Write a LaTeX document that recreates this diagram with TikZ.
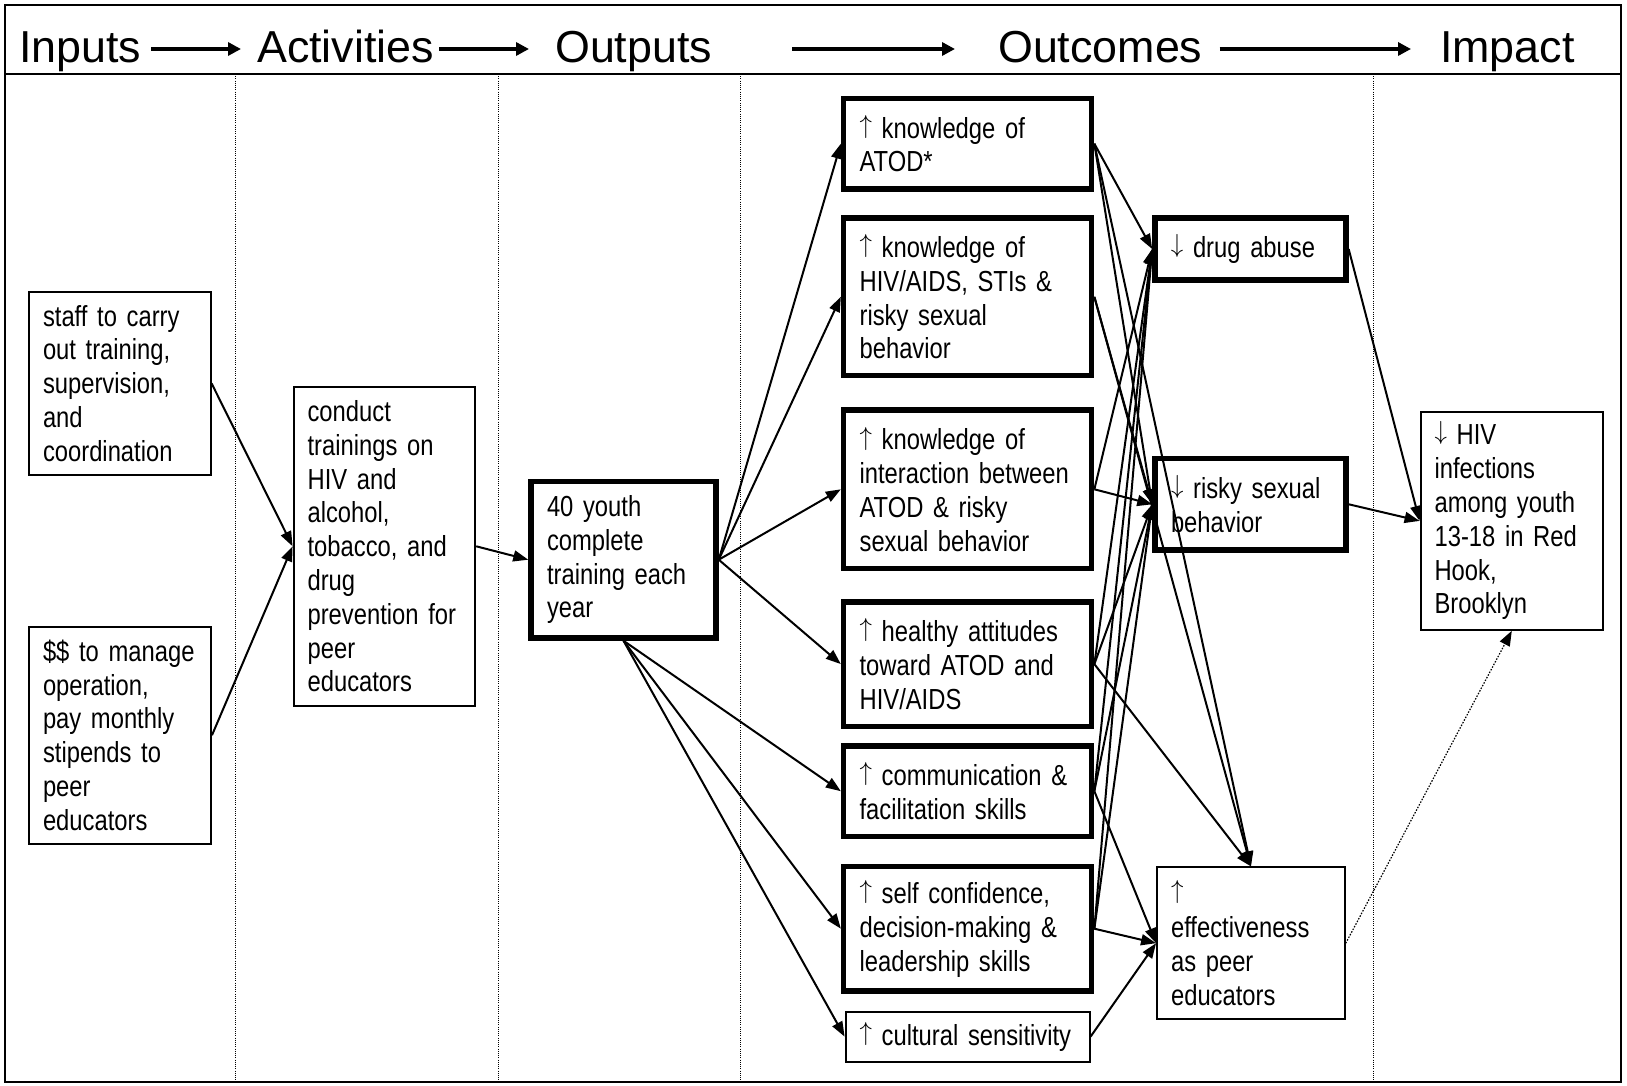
\documentclass[tikz,border=0pt]{standalone}
\usepackage{graphicx}
\usepackage{fontspec}
\setmainfont{Liberation Sans}
\newfontfamily\narrowfont{Liberation Sans}[FakeStretch=0.82]
\usetikzlibrary{arrows.meta}

\newcommand\bodytext{\narrowfont\fontsize{29pt}{33.8pt}\selectfont}
\newcommand\headtext{\fontsize{44.8pt}{50pt}\selectfont}
\newcommand\rises{\raisebox{0.17em}{\scalebox{1}[1.05]{$\uparrow$}}}
\newcommand\falls{\raisebox{0.17em}{\scalebox{1}[1.05]{$\downarrow$}}}

\begin{document}
\begin{tikzpicture}[x=1pt,y=-1pt,
        box/.style={draw,line width=2pt,inner xsep=14pt,inner ysep=0pt,align=left,font=\bodytext},
        thickbox/.style={box,line width=5.5pt,inner xsep=16pt},
        head/.style={font=\headtext,inner sep=0pt,text height=32pt,text depth=4pt,anchor=base west},
        link/.style={-{Triangle[length=15pt,width=11pt]},line width=2pt},
        headlink/.style={-{Triangle[length=13pt,width=13pt]},line width=4pt},
        divider/.style={line width=1pt,dash pattern=on 1pt off 1.2pt}]

    \useasboundingbox (0,0) rectangle (1627,1086);

    % frame and columns
    \draw[line width=2.5pt] (5,5) rectangle (1621,1082);
    \draw[line width=2.5pt] (5,74) -- (1621,74);
    \draw[divider] (235.5,74) -- (235.5,1082);
    \draw[divider] (498,74) -- (498,1082);
    \draw[divider] (740,74) -- (740,1082);
    \draw[divider] (1373,74) -- (1373,1082);

    % header
    \node[head] (hin) at (19,63) {Inputs};
    \node[head] (hact) at (257,63) {Activities};
    \node[head] (hout) at (555,63) {Outputs};
    \node[head] (hcome) at (998,63) {Outcomes};
    \node[head] (himp) at (1440,63) {Impact};

    \draw[headlink,shorten <=10pt,shorten >=16pt] (hin.east) -- (hact.west);
    \draw[headlink,shorten <=5pt,shorten >=26pt] (hact.east) -- (hout.west);
    \draw[headlink,shorten <=80pt,shorten >=43pt] (hout.east) -- (hcome.west);
    \draw[headlink,shorten <=17pt,shorten >=29pt] (hcome.east) -- (himp.west);

    % inputs and activities
    \node[box,text width=153.6pt,minimum height=183.6pt] (staff) at (119.8,383.4)
        {staff to carry\\out training,\\supervision,\\and\\coordination};
    \node[box,text width=154pt,minimum height=216.9pt] (money) at (120,735.2)
        {\$\$ to manage\\operation,\\pay monthly\\stipends to\\peer\\educators};
    \node[box,text width=153.6pt,minimum height=318.6pt] (conduct) at (384.4,546.3)
        {conduct\\trainings on\\HIV and\\alcohol,\\tobacco, and\\drug\\prevention for\\peer\\educators};

    % outputs
    \node[thickbox,text width=153pt,minimum height=156.6pt] (youth) at (623.5,559.7)
        {40 youth\\complete\\training each\\year};

    % outcomes
    \node[thickbox,text width=216pt,minimum height=90.2pt] (atod) at (967.6,143.7)
        {\rises{} knowledge of\\ATOD*};
    \node[thickbox,text width=216pt,minimum height=157.7pt] (hivk) at (967.6,296.8)
        {\rises{} knowledge of\\HIV/AIDS, STIs \&\\risky sexual\\behavior};
    \node[thickbox,text width=216pt,minimum height=158.7pt] (inter) at (967.6,489.3)
        {\rises{} knowledge of\\interaction between\\ATOD \& risky\\sexual behavior};
    \node[thickbox,text width=216pt,minimum height=124.5pt] (attit) at (967.6,664.1)
        {\rises{} healthy attitudes\\toward ATOD and\\HIV/AIDS};
    \node[thickbox,text width=216pt,minimum height=90.3pt] (comm) at (967.6,791.2)
        {\rises{} communication \&\\facilitation skills};
    \node[thickbox,text width=216pt,minimum height=124.5pt] (conf) at (967.6,928.7)
        {\rises{} self confidence,\\decision-making \&\\leadership skills};
    \node[box,text width=216pt,minimum height=49.8pt] (cult) at (967.6,1036.6)
        {\rises{} cultural sensitivity};

    \node[thickbox,text width=159pt,minimum height=62.3pt] (drug) at (1250.4,249)
        {\falls{} drug abuse};
    \node[thickbox,text width=159pt,minimum height=91.3pt] (risky) at (1250.5,504.3)
        {\falls{} risky sexual\\behavior};
    \node[box,text width=159.7pt,minimum height=151.6pt] (eff) at (1250.9,943.2)
        {\rises\\effectiveness\\as peer\\educators};

    % impact
    \node[box,text width=154.5pt,minimum height=217.8pt] (hiv) at (1511.8,520.9)
        {\falls{} HIV\\infections\\among youth\\13-18 in Red\\Hook,\\Brooklyn};

    % links
    \draw[link] (staff.east) -- (conduct.west);
    \draw[link] (money.east) -- (conduct.west);
    \draw[link] (conduct.east) -- (youth.west);

    \draw[link] (youth.east) -- (atod.west);
    \draw[link] (youth.east) -- (hivk.west);
    \draw[link] (youth.east) -- (inter.west);
    \draw[link] (youth.east) -- (attit.west);
    \draw[link] (youth.south) -- (comm.west);
    \draw[link] (youth.south) -- (conf.west);
    \draw[link] (youth.south) -- (cult.west);

    \draw[link] (atod.east) -- (drug.west);
    \draw[link] (atod.east) -- (risky.west);
    \draw[link] (atod.east) -- (eff.north);
    \draw[link] (hivk.east) -- (risky.west);
    \draw[link] (hivk.east) -- (eff.north);
    \draw[link] (inter.east) -- (drug.west);
    \draw[link] (inter.east) -- (risky.west);
    \draw[link] (attit.east) -- (drug.west);
    \draw[link] (attit.east) -- (risky.west);
    \draw[link] (attit.east) -- (eff.north);
    \draw[link] (comm.east) -- (drug.west);
    \draw[link] (comm.east) -- (risky.west);
    \draw[link] (comm.east) -- (eff.west);
    \draw[link] (conf.east) -- (drug.west);
    \draw[link] (conf.east) -- (risky.west);
    \draw[link] (conf.east) -- (eff.west);
    \draw[link] (cult.east) -- (eff.west);

    \draw[link] (drug.east) -- (hiv.west);
    \draw[link] (risky.east) -- (hiv.west);
    \draw[link,line width=1.2pt,dash pattern=on 1.5pt off 1.5pt] (eff.east) -- (hiv.south);
\end{tikzpicture}
\end{document}
